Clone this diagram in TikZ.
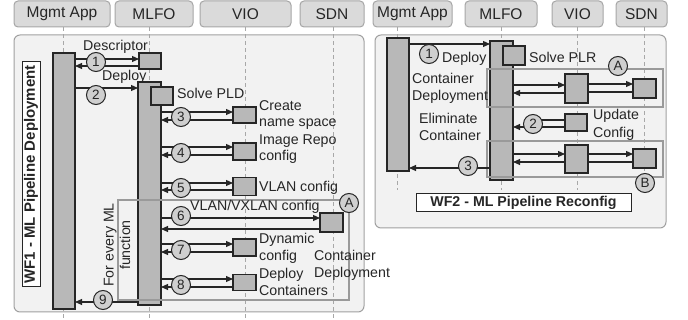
\documentclass[tikz,border=0pt]{standalone}
\usepackage{fontspec}
\setmainfont{Liberation Sans}
\usetikzlibrary{arrows.meta}
\definecolor{hdrfill}{HTML}{DADADA}
\definecolor{hdrline}{HTML}{A6A6A6}
\definecolor{panelfill}{HTML}{F2F2F2}
\definecolor{panelline}{HTML}{A0A0A0}
\definecolor{barfill}{HTML}{B8B8B8}
\definecolor{ink}{HTML}{262626}
\definecolor{loopline}{HTML}{9A9A9A}
\definecolor{lifecol}{HTML}{A8A8A8}
\definecolor{circfill}{HTML}{CFCFCF}
\begin{document}
\begin{tikzpicture}[x=1pt,y=-1pt,
  hdr/.style={draw=hdrline, fill=hdrfill, rounded corners=4pt, line width=1pt, minimum height=26pt, inner sep=0pt, font=\fontsize{15.5}{18}\selectfont, text=ink},
  panel/.style={draw=panelline, fill=panelfill, rounded corners=6pt, line width=1pt},
  life/.style={draw=lifecol, dash pattern=on 4pt off 3pt, line width=0.9pt},
  act/.style={draw=ink, fill=barfill, line width=1.2pt, inner sep=0pt, outer sep=0pt},
  num/.style={circle, draw=ink, fill=circfill, line width=1pt, minimum size=19pt, inner sep=0pt, font=\fontsize{13.5}{15}\selectfont, text=ink},
  loopbox/.style={draw=loopline, line width=1.3pt},
  msg/.style={draw=ink, line width=1.1pt, -{Triangle[length=7pt,width=6pt]}},
  plain/.style={draw=ink, line width=1.1pt},
  txt/.style={anchor=base west, inner sep=0pt, font=\fontsize{14.2}{16}\selectfont, text=ink},
  title/.style={draw=ink, fill=white, line width=1pt, inner sep=0pt, text=ink}
]
\useasboundingbox (0,0) rectangle (688,320);

% headers
\node[hdr, minimum width=96pt] (hMA) at (62,14) {Mgmt App};
\node[hdr, minimum width=78pt] (hMF) at (154,14) {MLFO};
\node[hdr, minimum width=91pt] (hVI) at (245.5,14) {VIO};
\node[hdr, minimum width=64pt] (hSD) at (332,14) {SDN};
\node[hdr, minimum width=79pt] (hMA2) at (412.5,14) {Mgmt App};
\node[hdr, minimum width=72pt] (hMF2) at (501,14) {MLFO};
\node[hdr, minimum width=51pt] (hVI2) at (577.5,14) {VIO};
\node[hdr, minimum width=51pt] (hSD2) at (641.5,14) {SDN};

% panels
\draw[panel] (14,35) rectangle (364,312);
\draw[panel] (375,35) rectangle (666,228);

% lifelines
\draw[life] (hMA.south -| 63,0) -- (63,319);
\draw[life] (hMF.south -| 149,0) -- (149,319);
\draw[life] (hVI.south -| 245,0) -- (245,319);
\draw[life] (hSD.south -| 333,0) -- (333,319);
\draw[life] (hMA2.south -| 397,0) -- (397,190);
\draw[life] (hMF2.south -| 501,0) -- (501,190);
\draw[life] (hVI2.south -| 577,0) -- (577,190);
\draw[life] (hSD2.south -| 644,0) -- (644,190);

% ---------- WF1 ----------
\node[title, rotate=90, minimum width=225pt, minimum height=18pt, font=\bfseries\fontsize{15}{16}\selectfont] (wf1) at (31,174.5) {WF1 - ML Pipeline Deployment};
\node[txt] (tdesc) at (83,51) {Descriptor};
\node[txt] (tdep) at (102,81) {Deploy};

\node[act, minimum width=22pt, minimum height=256pt] (mb1) at (64,181) {};
\node[act, minimum width=23pt, minimum height=223pt] (fb1) at (149.5,193.5) {};
\node[act, minimum width=22pt, minimum height=16pt] (d1) at (150,61) {};
\node[act, minimum width=22pt, minimum height=18pt] (spld) at (162,96) {};
\node[act, minimum width=23pt, minimum height=16pt] (v3) at (244.5,115) {};
\node[act, minimum width=23pt, minimum height=17pt] (v4) at (244.5,151.5) {};
\node[act, minimum width=23pt, minimum height=18pt] (v5) at (244.5,186.5) {};
\node[act, minimum width=23pt, minimum height=19pt] (s6) at (331.5,222.5) {};
\node[act, minimum width=23pt, minimum height=17pt] (v7) at (244.5,247.5) {};
\node[act, minimum width=23pt, minimum height=16pt] (v8) at (244.5,282.5) {};

\draw[loopbox] (118,200) rectangle (349,300);

\draw[msg] (mb1.east |- 0,59) -- (d1.west |- 0,59);
\draw[msg] (d1.west |- 0,66) -- (mb1.east |- 0,66);
\draw[msg] (mb1.east |- 0,88) -- (fb1.west |- 0,88);
\draw[msg] (fb1.east |- 0,112) -- (v3.west |- 0,112);
\draw[msg] (v3.west |- 0,120) -- (fb1.east |- 0,120);
\draw[msg] (fb1.east |- 0,147) -- (v4.west |- 0,147);
\draw[msg] (v4.west |- 0,155) -- (fb1.east |- 0,155);
\draw[msg] (fb1.east |- 0,183) -- (v5.west |- 0,183);
\draw[msg] (v5.west |- 0,190) -- (fb1.east |- 0,190);
\draw[msg] (fb1.east |- 0,218) -- (s6.west |- 0,218);
\draw[msg] (s6.west |- 0,229) -- (fb1.east |- 0,229);
\draw[msg] (fb1.east |- 0,244) -- (v7.west |- 0,244);
\draw[msg] (v7.west |- 0,252) -- (fb1.east |- 0,252);
\draw[msg] (fb1.east |- 0,279) -- (v8.west |- 0,279);
\draw[msg] (v8.west |- 0,287) -- (fb1.east |- 0,287);
\draw[msg] (fb1.west |- 0,302) -- (mb1.east |- 0,302);

\node[num] (c1) at (96,62) {1};
\node[num] (c2) at (96,95) {2};
\node[num] (c3) at (181,117) {3};
\node[num] (c4) at (181,153) {4};
\node[num] (c5) at (181,188) {5};
\node[num] (c6) at (181,216) {6};
\node[num] (c7) at (181,250) {7};
\node[num] (c8) at (181,285) {8};
\node[num] (c9) at (103,300) {9};
\node[num] (cA) at (349,203) {A};

\node[txt] (tspld) at (177,99) {Solve PLD};
\node[txt] (t3a) at (259,111) {Create};
\node[txt] (t3b) at (259,127) {name space};
\node[txt] (t4a) at (259,145) {Image Repo};
\node[txt] (t4b) at (259,161) {config};
\node[txt] (t5) at (259,192) {VLAN config};
\node[txt] (t6) at (190,211) {VLAN/VXLAN config};
\node[txt] (t7a) at (259,244) {Dynamic};
\node[txt] (t7b) at (259,261) {config};
\node[txt] (t8a) at (259,279) {Deploy};
\node[txt] (t8b) at (259,296) {Containers};
\node[txt] (tcda) at (314,261) {Container};
\node[txt] (tcdb) at (314,278) {Deployment};
\node[rotate=90, align=center, inner sep=0pt, font=\fontsize{14.2}{16.5}\selectfont, text=ink] (tloop) at (117,245) {For every ML\\function};

% ---------- WF2 ----------
\node[act, minimum width=22pt, minimum height=133pt] (mb2) at (398,104.5) {};
\node[act, minimum width=23pt, minimum height=139pt] (fb2) at (501.5,110.5) {};
\node[act, minimum width=22pt, minimum height=19pt] (splr) at (514,55.5) {};
\node[act, minimum width=23pt, minimum height=29pt] (vA) at (576.5,88.5) {};
\node[act, minimum width=23pt, minimum height=19pt] (sA) at (644.5,88.5) {};
\node[act, minimum width=22pt, minimum height=17pt] (vU) at (576,122.5) {};
\node[act, minimum width=23pt, minimum height=28pt] (vB) at (576.5,159) {};
\node[act, minimum width=23pt, minimum height=19pt] (sB) at (644.5,158.5) {};

\draw[loopbox] (487,69) rectangle (663,107);
\draw[loopbox] (487,141) rectangle (663,177);

\draw[msg] (mb2.east |- 0,44) -- (fb2.west |- 0,44);
\draw[msg] (fb2.east |- 0,85) -- (vA.west |- 0,85);
\draw[msg] (vA.west |- 0,93) -- (fb2.east |- 0,93);
\draw[msg] (vA.east |- 0,84) -- (sA.west |- 0,84);
\draw[plain] (vA.east |- 0,92) -- (sA.west |- 0,92);
\coordinate (r2c) at (533,124);
\draw[plain] (vU.west |- 0,120) -- (r2c |- 0,120);
\draw[msg] (vU.west |- 0,127) -- (fb2.east |- 0,127);
\draw[msg] (fb2.east |- 0,154) -- (vB.west |- 0,154);
\draw[msg] (vB.west |- 0,162) -- (fb2.east |- 0,162);
\draw[msg] (vB.east |- 0,154) -- (sB.west |- 0,154);
\draw[plain] (vB.east |- 0,162) -- (sB.west |- 0,162);
\draw[msg] (fb2.west |- 0,168) -- (mb2.east |- 0,168);

\node[num] (r1) at (429,54) {1};
\node[num] (r2) at (r2c) {2};
\node[num] (r3) at (468,166) {3};
\node[num] (rA) at (618,66) {A};
\node[num] (rB) at (645,183) {B};

\node[txt] (tdep2) at (442,63) {Deploy};
\node[txt] (tsplr) at (529,63) {Solve PLR};
\node[txt] (tca) at (412,84) {Container};
\node[txt] (tcb) at (412,101) {Deployment};
\node[txt] (tea) at (419,124) {Eliminate};
\node[txt] (teb) at (419,141) {Container};
\node[txt] (tua) at (593,120) {Update};
\node[txt] (tub) at (593,138) {Config};
\node[title, minimum width=215pt, minimum height=18pt, font=\bfseries\fontsize{14.2}{16}\selectfont] (wf2) at (523.5,203) {WF2 - ML Pipeline Reconfig};
\end{tikzpicture}
\end{document}
